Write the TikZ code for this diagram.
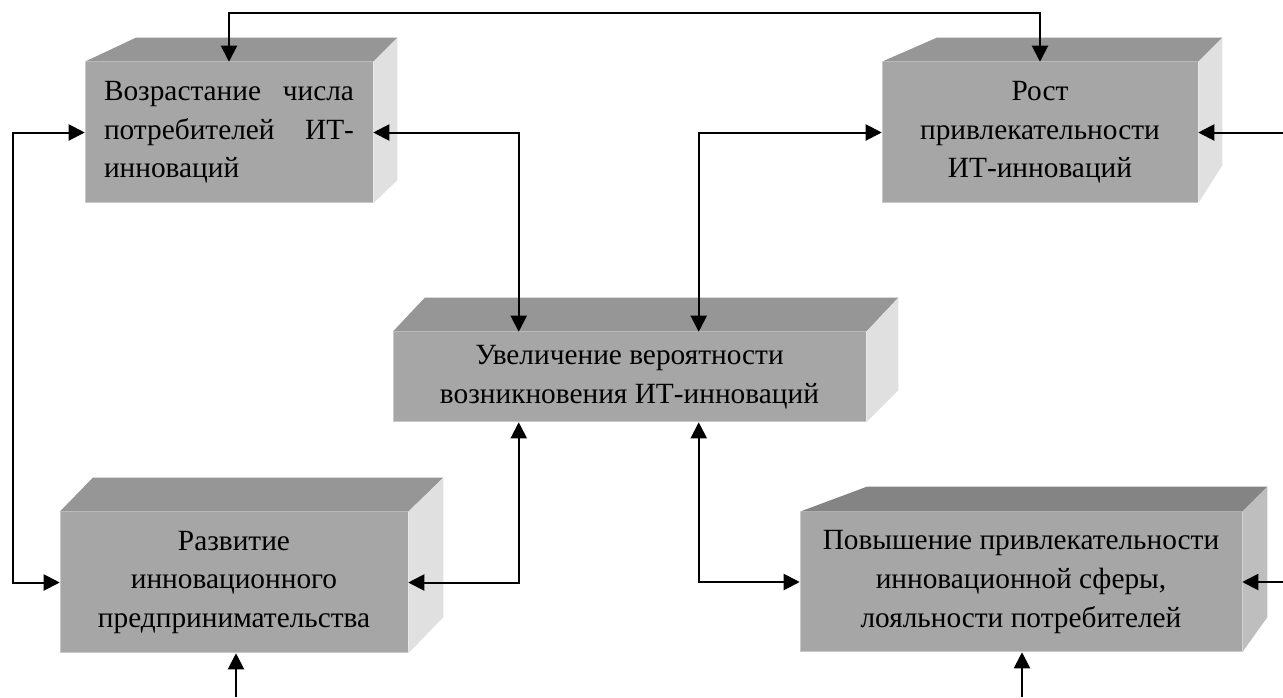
\documentclass[tikz,border=0pt]{standalone}
\usepackage{fontspec}
\setmainfont{Liberation Serif}
\usetikzlibrary{arrows.meta,calc}
\definecolor{frontc}{RGB}{166,166,166}
\definecolor{topc}{RGB}{150,150,150}
\definecolor{sidec}{RGB}{224,224,224}
\definecolor{topd}{RGB}{132,132,132}
\definecolor{sided}{RGB}{190,190,190}
\definecolor{edgec}{RGB}{200,200,200}
\newcommand\boxfaces[7]{%
  \fill[#6] (#1.north west) -- ++(#2,-#4) -- ($(#1.north east)+(#3,-#4)$) -- (#1.north east) -- cycle;
  \fill[#7] (#1.north east) -- ++(#3,-#4) -- ($(#1.south east)+(#3,-#5)$) -- (#1.south east) -- cycle;
  \draw[edgec, line width=1pt] ($(#1.north west)+(1,0)$) -- ($(#1.south west)+(1,-1)$) -- ($(#1.south east)+(0,-1)$);
}
\begin{document}
\begin{tikzpicture}[x=0.75pt,y=-0.75pt,
  front/.style={rectangle, fill=frontc, inner sep=0pt, align=center,
    font=\fontsize{22pt}{28.9pt}\selectfont},
  link/.style={line width=1.5pt, {Triangle[length=12pt,width=12pt]}-{Triangle[length=12pt,width=12pt]}},
  link1/.style={line width=1.5pt, -{Triangle[length=12pt,width=12pt]}}]
\path[use as bounding box, fill=white] (0,0) rectangle (1283,697);

\node[front, minimum width=216pt, minimum height=105.75pt, text width=187.5pt, align=left] (b1) at (229,132.5)
  {Возрастание\hfill числа\\потребителей\hfill ИТ-\\инноваций};
\node[front, minimum width=237pt, minimum height=105.75pt] (b2) at (1040,132.5)
  {Рост\\привлекательности\\ИТ-инноваций};
\node[front, minimum width=354.75pt, minimum height=67.5pt] (b3) at (629.5,377)
  {Увеличение вероятности\\возникновения ИТ-инноваций};
\node[front, minimum width=261pt, minimum height=105.75pt] (b4) at (234,582.5)
  {Развитие\\инновационного\\предпринимательства};
\node[front, minimum width=331.5pt, minimum height=105pt] (b5) at (1021,582)
  {Повышение привлекательности\\инновационной сферы,\\лояльности потребителей};

\boxfaces{b1}{51}{24}{24}{23}{topc}{sidec}
\boxfaces{b2}{55}{24}{24}{38}{topc}{sidec}
\boxfaces{b3}{32}{32}{34}{32}{topc}{sidec}
\boxfaces{b4}{33}{35}{34}{36}{topc}{sidec}
\boxfaces{b5}{67}{25}{25}{35}{topd}{sided}

\coordinate (b3n1) at ($(b3.north west)+(126,0)$);
\coordinate (b3n2) at ($(b3.north west)+(306,0)$);
\coordinate (b3s1) at ($(b3.south west)+(126,0)$);
\coordinate (b3s2) at ($(b3.south west)+(306,0)$);
\coordinate (r1) at (1283,132.5);
\coordinate (r2) at (1283,582);
\coordinate (d1) at (236,697);
\coordinate (d2) at (1022,697);

\draw[link] (b1.north) -- ++(0,-49) -| (b2.north);
\draw[link] (b1.west) -- ++(-72,0) |- (b4.west);
\draw[link] (b1.east) -| (b3n1);
\draw[link] (b2.west) -| (b3n2);
\draw[link1] (r1) -- (b2.east);
\draw[link] (b3s1) |- (b4.east);
\draw[link] (b3s2) |- (b5.west);
\draw[link1] (r2) -- (b5.east);
\draw[link1] (d1) -- (d1 |- b4.south);
\draw[link1] (d2) -- (d2 |- b5.south);
\end{tikzpicture}
\end{document}
